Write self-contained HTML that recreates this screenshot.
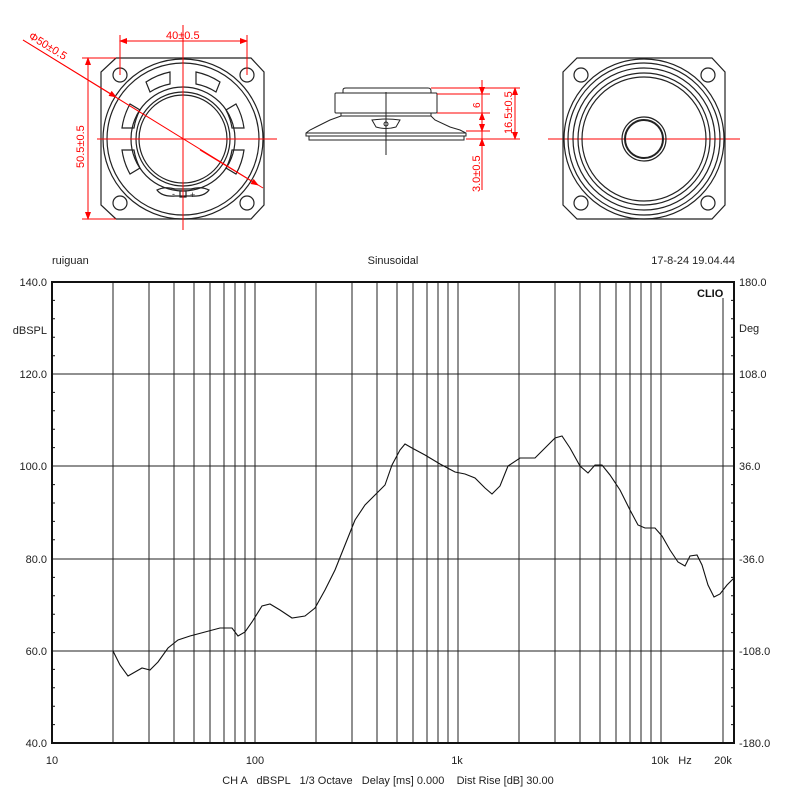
<!DOCTYPE html>
<html><head><meta charset="utf-8"><style>
html,body{margin:0;padding:0;background:#fff}
svg{display:block}
text{font-family:"Liberation Sans",Arial,sans-serif}
</style></head><body>
<svg width="800" height="800" viewBox="0 0 800 800" xmlns="http://www.w3.org/2000/svg">
<defs>
<marker id="ar" markerWidth="8" markerHeight="6" refX="7" refY="3" orient="auto" markerUnits="userSpaceOnUse"><path d="M0,0 L8,3 L0,6z" fill="#f00"/></marker>
</defs>
<!-- LEFT FRONT VIEW -->
<g fill="none" stroke="#222" stroke-width="1.2">
<path d="M116,58 H251 L264,72 V205 L251,219 H116 L101,205 V72 Z"/>
<circle cx="183" cy="139" r="80"/>
<circle cx="183" cy="139" r="76"/>
<circle cx="183" cy="139" r="52"/>
<circle cx="183" cy="139" r="47"/>
<circle cx="183" cy="139" r="44"/>
<path d="M146,82 A68,68 0 0 1 170,72 L170,84 A56,56 0 0 0 150,92 Z"/>
<path d="M196,72 A68,68 0 0 1 220,82 L216,92 A56,56 0 0 0 196,84 Z"/>
<path d="M122,128 A68,68 0 0 1 130,104 L140,110 A56,56 0 0 0 134,128 Z"/>
<path d="M122,150 A68,68 0 0 0 130,174 L140,168 A56,56 0 0 1 134,150 Z"/>
<path d="M244,128 A68,68 0 0 0 236,104 L226,110 A56,56 0 0 1 232,128 Z"/>
<path d="M244,150 A68,68 0 0 1 236,174 L226,168 A56,56 0 0 0 232,150 Z"/>
<circle cx="120" cy="75" r="7"/><circle cx="247" cy="75" r="7"/>
<circle cx="120" cy="203" r="7"/><circle cx="247" cy="203" r="7"/>
<path d="M157,190 Q165,186 175,189 L191,189 Q201,186 209,190 Q204,197 191,196 L175,196 Q162,197 157,190Z"/>
<rect x="180" y="191" width="6" height="6"/>
</g>
<text x="172" y="197" font-size="9" fill="#222">-</text>
<text x="190" y="198" font-size="9" fill="#222">+</text>
<g stroke="#f00" stroke-width="1" fill="none">
<line x1="97" y1="139" x2="277" y2="139"/>
<line x1="183" y1="25" x2="183" y2="230"/>
<line x1="120" y1="35" x2="120" y2="75"/>
<line x1="247" y1="35" x2="247" y2="75"/>
<line x1="120" y1="41" x2="247" y2="41" marker-end="url(#ar)"/>
<line x1="247" y1="41" x2="120" y2="41" marker-end="url(#ar)"/>
<line x1="82" y1="58" x2="116" y2="58"/>
<line x1="82" y1="219" x2="116" y2="219"/>
<line x1="88" y1="58" x2="88" y2="219" marker-end="url(#ar)"/>
<line x1="88" y1="219" x2="88" y2="58" marker-end="url(#ar)"/>
<line x1="23" y1="40" x2="263" y2="188"/>
<line x1="23" y1="40" x2="116" y2="97" marker-end="url(#ar)"/>
<line x1="200" y1="150" x2="258" y2="185" marker-end="url(#ar)"/>
</g>
<text x="166" y="39" font-size="11" fill="#f00">40±0.5</text>
<text transform="translate(84,168) rotate(-90)" font-size="11" fill="#f00">50.5±0.5</text>
<text transform="translate(28,38) rotate(31.6)" font-size="11" fill="#f00">Φ50±0.5</text>
<!-- SIDE VIEW -->
<g fill="none" stroke="#222" stroke-width="1">
<path d="M343,93 L343,90 Q343,88 346,88 H428 Q431,88 431,91 V93"/>
<rect x="335" y="93" width="102" height="20" rx="1"/>
<path d="M341,113 V116 H431 V113"/>
<path d="M341,116 L330,120 L316,127 L310,130 L306,133 V136 H466 V133 L460,130 L450,127 L435,120 L431,116"/>
<line x1="306" y1="133" x2="466" y2="133"/>
<path d="M309,136 V140 H464 V136"/>
<path d="M372,120 Q386,118 400,120 L396,127 Q386,130 376,127 Z"/>
<circle cx="386" cy="124" r="2"/>
<line x1="386" y1="92" x2="386" y2="155"/>
</g>
<g stroke="#f00" stroke-width="1" fill="none">
<line x1="431" y1="88" x2="520" y2="88"/>
<line x1="437" y1="94" x2="490" y2="94"/>
<line x1="437" y1="113" x2="490" y2="113"/>
<line x1="466" y1="131" x2="490" y2="131"/>
<line x1="466" y1="139" x2="520" y2="139"/>
<line x1="482" y1="80" x2="482" y2="94" marker-end="url(#ar)"/>
<line x1="482" y1="125" x2="482" y2="113" marker-end="url(#ar)"/>
<line x1="482" y1="94" x2="482" y2="113"/>
<line x1="515" y1="88" x2="515" y2="139" marker-end="url(#ar)"/>
<line x1="515" y1="139" x2="515" y2="88" marker-end="url(#ar)"/>
<line x1="482" y1="131" x2="482" y2="190"/>
<line x1="482" y1="122" x2="482" y2="131" marker-end="url(#ar)"/>
<line x1="482" y1="150" x2="482" y2="139" marker-end="url(#ar)"/>
</g>
<text transform="translate(480,108) rotate(-90)" font-size="10" fill="#f00">6</text>
<text transform="translate(512,134) rotate(-90)" font-size="11" fill="#f00">16.5±0.5</text>
<text transform="translate(480,192) rotate(-90)" font-size="11" fill="#f00">3.0±0.5</text>
<line x1="548" y1="139" x2="740" y2="139" stroke="#f00" stroke-width="1"/>
<!-- RIGHT VIEW -->
<g fill="none" stroke="#222" stroke-width="1.2">
<path d="M577,58 H712 L725,72 V205 L712,219 H577 L563,205 V72 Z"/>
<circle cx="644" cy="139" r="80"/>
<circle cx="644" cy="139" r="76"/>
<circle cx="644" cy="139" r="71"/>
<circle cx="644" cy="139" r="66"/>
<circle cx="644" cy="139" r="62"/>
<circle cx="644" cy="139" r="22"/>
<circle cx="644" cy="139" r="19" stroke-width="2"/>
<circle cx="581" cy="75" r="7"/><circle cx="708" cy="75" r="7"/>
<circle cx="581" cy="203" r="7"/><circle cx="708" cy="203" r="7"/>
</g>
<!-- CHART -->
<text x="52" y="264" font-size="11" fill="#222">ruiguan</text>
<text x="393" y="264" font-size="11" fill="#222" text-anchor="middle">Sinusoidal</text>
<text x="735" y="264" font-size="11" fill="#222" text-anchor="end">17-8-24 19.04.44</text>
<g stroke="#222" stroke-width="1">
<line x1="113" y1="282" x2="113" y2="743"/><line x1="149" y1="282" x2="149" y2="743"/><line x1="174" y1="282" x2="174" y2="743"/><line x1="194" y1="282" x2="194" y2="743"/><line x1="210" y1="282" x2="210" y2="743"/><line x1="224" y1="282" x2="224" y2="743"/><line x1="235" y1="282" x2="235" y2="743"/><line x1="245" y1="282" x2="245" y2="743"/><line x1="255" y1="282" x2="255" y2="743"/>
<line x1="316" y1="282" x2="316" y2="743"/><line x1="352" y1="282" x2="352" y2="743"/><line x1="377" y1="282" x2="377" y2="743"/><line x1="397" y1="282" x2="397" y2="743"/><line x1="413" y1="282" x2="413" y2="743"/><line x1="427" y1="282" x2="427" y2="743"/><line x1="438" y1="282" x2="438" y2="743"/><line x1="448" y1="282" x2="448" y2="743"/><line x1="458" y1="282" x2="458" y2="743"/>
<line x1="519" y1="282" x2="519" y2="743"/><line x1="555" y1="282" x2="555" y2="743"/><line x1="580" y1="282" x2="580" y2="743"/><line x1="600" y1="282" x2="600" y2="743"/><line x1="616" y1="282" x2="616" y2="743"/><line x1="630" y1="282" x2="630" y2="743"/><line x1="641" y1="282" x2="641" y2="743"/><line x1="651" y1="282" x2="651" y2="743"/><line x1="661" y1="282" x2="661" y2="743"/>
<line x1="723" y1="298" x2="723" y2="743"/>
<line x1="52" y1="374" x2="734" y2="374"/><line x1="52" y1="466" x2="734" y2="466"/><line x1="52" y1="559" x2="734" y2="559"/><line x1="52" y1="651" x2="734" y2="651"/>
</g>
<rect x="52" y="282" width="682" height="461" fill="none" stroke="#111" stroke-width="2"/>
<g stroke="#111" stroke-width="1">
<path d="M52,300.4h3M52,318.8h3M52,337.3h3M52,355.7h3M52,392.4h3M52,410.8h3M52,429.2h3M52,447.6h3M52,484.6h3M52,503h3M52,521.4h3M52,539.8h3M52,577.4h3M52,595.8h3M52,614.2h3M52,632.6h3M52,669.4h3M52,687.8h3M52,706.2h3M52,724.6h3"/>
<path d="M734,300.4h-3M734,318.8h-3M734,337.3h-3M734,355.7h-3M734,392.4h-3M734,410.8h-3M734,429.2h-3M734,447.6h-3M734,484.6h-3M734,503h-3M734,521.4h-3M734,539.8h-3M734,577.4h-3M734,595.8h-3M734,614.2h-3M734,632.6h-3M734,669.4h-3M734,687.8h-3M734,706.2h-3M734,724.6h-3"/>
</g>
<text x="697" y="297" font-size="11" font-weight="bold" fill="#111">CLIO</text>
<g font-size="11" fill="#222" text-anchor="end">
<text x="47" y="286">140.0</text><text x="47" y="378">120.0</text><text x="47" y="470">100.0</text><text x="47" y="563">80.0</text><text x="47" y="655">60.0</text><text x="47" y="747">40.0</text>
<text x="47" y="334">dBSPL</text>
</g>
<g font-size="11" fill="#222">
<text x="739" y="286">180.0</text><text x="739" y="378">108.0</text><text x="739" y="470">36.0</text><text x="739" y="563">-36.0</text><text x="739" y="655">-108.0</text><text x="739" y="747">-180.0</text>
<text x="739" y="332">Deg</text>
</g>
<g font-size="11" fill="#222" text-anchor="middle">
<text x="52" y="764">10</text><text x="255" y="764">100</text><text x="457" y="764">1k</text><text x="660" y="764">10k</text><text x="685" y="764">Hz</text><text x="723" y="764">20k</text>
<text x="388" y="784" style="white-space:pre" xml:space="preserve">CH A   dBSPL   1/3 Octave   Delay [ms] 0.000    Dist Rise [dB] 30.00</text>
</g>
<polyline fill="none" stroke="#111" stroke-width="1.1" points="113,651 120,665 128,676 135,672 142,668 150,670 158,662 168,648 178,640 190,636 205,632 220,628 232,628 238,636 245,632 252,622 262,606 270,604 280,610 292,618 305,616 315,608 325,590 335,570 345,545 355,520 365,505 375,495 385,485 392,465 400,450 405,444 412,448 425,455 440,464 455,472 465,474 475,478 485,488 492,494 500,486 508,466 520,458 535,458 545,448 555,438 562,436 570,448 580,466 588,473 595,465 602,465 610,475 620,490 630,510 638,525 645,528 655,528 662,536 670,550 678,562 685,566 690,556 697,555 702,565 708,585 714,597 720,594 727,585 734,578"/>
</svg>
</body></html>
